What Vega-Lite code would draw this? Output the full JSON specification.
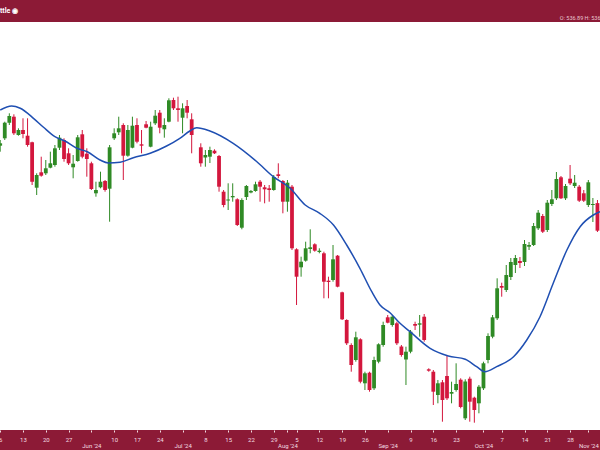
{
  "$schema": "https://vega.github.io/schema/vega-lite/v6.json",
  "width": 600,
  "height": 408,
  "autosize": {"type": "none"},
  "padding": {"left": 0, "right": 0, "top": 22, "bottom": 20},
  "background": "#8c1a36",
  "view": {"fill": "white", "stroke": null},
  "config": {"scale": {"continuousPadding": 0}},
  "title": {"text": "ttle ◉", "anchor": "start", "frame": "group", "color": "white", "fontSize": 7, "fontWeight": "bold", "font": "Roboto", "offset": 1},
  "datasets": {
    "candles": [
      {"i":0,"o":594.3,"h":600,"l":588.3,"c":596.7},
      {"i":1,"o":601.7,"h":618.3,"l":600,"c":617.3},
      {"i":2,"o":617.3,"h":626.7,"l":615,"c":624},
      {"i":3,"o":623.3,"h":625.7,"l":605,"c":606.7},
      {"i":4,"o":605,"h":611.7,"l":604.3,"c":610},
      {"i":5,"o":610,"h":621.7,"l":601.7,"c":606},
      {"i":6,"o":604.3,"h":621.7,"l":593.3,"c":595},
      {"i":7,"o":597.7,"h":598.3,"l":555,"c":558.3},
      {"i":8,"o":552.3,"h":566.7,"l":545,"c":565},
      {"i":9,"o":567.7,"h":583.3,"l":563.3,"c":564.3},
      {"i":10,"o":566.7,"h":580,"l":565,"c":571.7},
      {"i":11,"o":572.3,"h":588.3,"l":571.7,"c":576.7},
      {"i":12,"o":575,"h":595,"l":573.3,"c":591.7},
      {"i":13,"o":592.3,"h":605,"l":590,"c":602.3},
      {"i":14,"o":600,"h":601.7,"l":578.3,"c":581},
      {"i":15,"o":586.7,"h":591.7,"l":575,"c":576.7},
      {"i":16,"o":572.7,"h":585,"l":561.7,"c":576.3},
      {"i":17,"o":579,"h":605,"l":578.3,"c":602.7},
      {"i":18,"o":605.7,"h":610,"l":581.7,"c":583.3},
      {"i":19,"o":586.3,"h":591.7,"l":563.3,"c":581},
      {"i":20,"o":576.7,"h":578.3,"l":550,"c":551},
      {"i":21,"o":546.7,"h":558.3,"l":543.3,"c":550},
      {"i":22,"o":552.7,"h":568.3,"l":551.7,"c":558.3},
      {"i":23,"o":559,"h":560,"l":548.3,"c":550},
      {"i":24,"o":551.3,"h":595,"l":518.3,"c":592.7},
      {"i":25,"o":601.7,"h":611.7,"l":600,"c":606.7},
      {"i":26,"o":607.7,"h":623.3,"l":605,"c":611.7},
      {"i":27,"o":615,"h":616.7,"l":560,"c":584.3},
      {"i":28,"o":584.3,"h":615,"l":583.3,"c":610},
      {"i":29,"o":592.3,"h":623.3,"l":591.7,"c":614.3},
      {"i":30,"o":615,"h":621.7,"l":596.7,"c":598.3},
      {"i":31,"o":595.7,"h":610,"l":586.7,"c":594.3},
      {"i":32,"o":615.7,"h":619,"l":611.7,"c":612.3},
      {"i":33,"o":593.3,"h":618.3,"l":592.7,"c":613.3},
      {"i":34,"o":616.7,"h":630,"l":615,"c":624.3},
      {"i":35,"o":627.3,"h":630,"l":606.7,"c":612.3},
      {"i":36,"o":610.7,"h":621.7,"l":602.3,"c":615},
      {"i":37,"o":618.3,"h":641.7,"l":617.7,"c":639.7},
      {"i":38,"o":640,"h":642.3,"l":630,"c":631.7},
      {"i":39,"o":631.7,"h":643.3,"l":618.3,"c":630},
      {"i":40,"o":622.3,"h":636.7,"l":606.7,"c":631.7},
      {"i":41,"o":634,"h":640,"l":621.7,"c":627.3},
      {"i":42,"o":620.7,"h":626.7,"l":586.7,"c":605},
      {"i":44,"o":592.7,"h":596.7,"l":573.3,"c":576.7},
      {"i":45,"o":582.5,"h":590,"l":573.3,"c":585},
      {"i":46,"o":583.3,"h":593.3,"l":577,"c":590},
      {"i":47,"o":589.3,"h":590.7,"l":586,"c":586.7},
      {"i":48,"o":584,"h":585,"l":548.3,"c":553.3},
      {"i":49,"o":548.3,"h":550,"l":532.7,"c":535},
      {"i":50,"o":539.5,"h":556.7,"l":530,"c":540.5},
      {"i":51,"o":542.7,"h":556.7,"l":538.3,"c":544},
      {"i":52,"o":540.7,"h":541.7,"l":514,"c":515},
      {"i":53,"o":512.3,"h":541.7,"l":510.7,"c":540},
      {"i":54,"o":543,"h":555,"l":540,"c":554},
      {"i":55,"o":547.5,"h":550,"l":546.7,"c":549},
      {"i":56,"o":549,"h":558.3,"l":548.3,"c":555.7},
      {"i":57,"o":558.3,"h":560,"l":538.3,"c":553.3},
      {"i":58,"o":552.7,"h":555,"l":536.7,"c":550.7},
      {"i":59,"o":551.7,"h":555,"l":538.3,"c":550},
      {"i":60,"o":550,"h":565,"l":549.3,"c":563},
      {"i":61,"o":565.7,"h":576.7,"l":561.7,"c":564},
      {"i":62,"o":559,"h":560,"l":526.7,"c":538.3},
      {"i":63,"o":538.3,"h":560,"l":528.3,"c":557.3},
      {"i":64,"o":553.3,"h":555,"l":490,"c":491.7},
      {"i":65,"o":490.7,"h":491.7,"l":435,"c":463.3},
      {"i":66,"o":472.7,"h":483.3,"l":463.3,"c":478.3},
      {"i":67,"o":479.3,"h":498.3,"l":478.3,"c":491.7},
      {"i":68,"o":491,"h":510.7,"l":486.7,"c":492.7},
      {"i":69,"o":495.7,"h":496.7,"l":488.3,"c":489.3},
      {"i":70,"o":488,"h":491.7,"l":486.7,"c":489.3},
      {"i":71,"o":486.7,"h":488.3,"l":441.7,"c":458.3},
      {"i":72,"o":459.3,"h":463.3,"l":441.7,"c":458},
      {"i":73,"o":460,"h":495,"l":458.3,"c":480.7},
      {"i":74,"o":484.3,"h":485,"l":452.7,"c":453.3},
      {"i":75,"o":447.7,"h":448.3,"l":420,"c":420.7},
      {"i":76,"o":420,"h":420.7,"l":395,"c":396.7},
      {"i":77,"o":395,"h":396.7,"l":368.3,"c":375},
      {"i":78,"o":380,"h":408.3,"l":378.3,"c":402.7},
      {"i":79,"o":400.7,"h":401.7,"l":356.7,"c":358.3},
      {"i":80,"o":356.7,"h":368.3,"l":350,"c":366.7},
      {"i":81,"o":367.3,"h":368.3,"l":348.3,"c":350},
      {"i":82,"o":351.7,"h":383.3,"l":350,"c":380},
      {"i":83,"o":378.3,"h":396.7,"l":376.7,"c":395.7},
      {"i":84,"o":395,"h":418.3,"l":393.3,"c":415},
      {"i":85,"o":422.7,"h":425,"l":416.7,"c":417.3},
      {"i":86,"o":415,"h":425,"l":413.3,"c":423.3},
      {"i":87,"o":416.7,"h":418.3,"l":395,"c":396.7},
      {"i":88,"o":393.5,"h":395,"l":383.3,"c":385},
      {"i":89,"o":380.5,"h":393.3,"l":355,"c":388.3},
      {"i":90,"o":388.3,"h":410,"l":386.7,"c":408.3},
      {"i":91,"o":416,"h":418.3,"l":410,"c":414.3},
      {"i":92,"o":415.3,"h":425,"l":403.3,"c":416.7},
      {"i":93,"o":423.3,"h":426,"l":398.3,"c":400},
      {"i":94,"o":370.7,"h":371.7,"l":368.3,"c":369.3},
      {"i":95,"o":368.3,"h":370,"l":335,"c":348.3},
      {"i":96,"o":345,"h":360,"l":336.7,"c":356.7},
      {"i":97,"o":357.7,"h":360,"l":318.3,"c":340},
      {"i":98,"o":364,"h":385,"l":340,"c":341.7},
      {"i":99,"o":346.3,"h":358.3,"l":336.7,"c":348},
      {"i":100,"o":350,"h":376.7,"l":348.3,"c":356},
      {"i":101,"o":360.3,"h":361.7,"l":331.7,"c":333},
      {"i":102,"o":321.7,"h":360.7,"l":320,"c":358.5},
      {"i":103,"o":361.3,"h":363.3,"l":318.3,"c":338.3},
      {"i":104,"o":342.3,"h":343.3,"l":317.3,"c":330},
      {"i":105,"o":336.7,"h":355,"l":326.7,"c":353.3},
      {"i":106,"o":351.7,"h":378.3,"l":350,"c":376.7},
      {"i":107,"o":380,"h":406.7,"l":376.7,"c":404},
      {"i":108,"o":403.3,"h":425,"l":401.7,"c":422.7},
      {"i":109,"o":421.7,"h":461.7,"l":420,"c":451.7},
      {"i":110,"o":454,"h":457.3,"l":443.3,"c":452.3},
      {"i":111,"o":450,"h":475,"l":448,"c":465},
      {"i":112,"o":463,"h":482,"l":460,"c":478},
      {"i":113,"o":475,"h":485,"l":467,"c":482},
      {"i":114,"o":479,"h":483,"l":472,"c":477},
      {"i":115,"o":478,"h":500,"l":474,"c":496},
      {"i":116,"o":493.3,"h":498,"l":490,"c":495},
      {"i":117,"o":495,"h":517,"l":494,"c":514},
      {"i":118,"o":511.7,"h":530,"l":510,"c":527.3},
      {"i":119,"o":524,"h":526,"l":507,"c":508.3},
      {"i":120,"o":510,"h":540,"l":508,"c":537.3},
      {"i":121,"o":536,"h":550,"l":534,"c":540.7},
      {"i":122,"o":541.7,"h":568,"l":540,"c":561},
      {"i":123,"o":562.7,"h":564,"l":541,"c":541.7},
      {"i":124,"o":541.7,"h":556,"l":540,"c":554},
      {"i":125,"o":561.3,"h":575,"l":555,"c":556.7},
      {"i":126,"o":554,"h":565,"l":552,"c":557.3},
      {"i":127,"o":553.3,"h":555,"l":538,"c":539.3},
      {"i":128,"o":546.7,"h":550,"l":538,"c":539.3},
      {"i":129,"o":535,"h":560,"l":533,"c":557.7},
      {"i":130,"o":535,"h":542,"l":518,"c":536},
      {"i":131,"o":536.89,"h":540,"l":508,"c":509.3}
    ],
    "ma": [
      {"i":0,"v":630},{"i":2.5,"v":634},{"i":4.4,"v":631.7},{"i":7.3,"v":621.7},{"i":9.5,"v":612.7},
      {"i":12,"v":603.3},{"i":14.2,"v":599},{"i":16.8,"v":591.7},{"i":19.1,"v":588.3},{"i":21.9,"v":580},
      {"i":23.7,"v":577},{"i":26.3,"v":577.7},{"i":29.2,"v":582.3},{"i":32.9,"v":586.7},{"i":36.5,"v":594},
      {"i":39.4,"v":601.7},{"i":41.6,"v":609},{"i":43.1,"v":612.3},{"i":46,"v":609},{"i":51.1,"v":596.7},
      {"i":56.3,"v":578.3},{"i":59.9,"v":563.3},{"i":63.6,"v":551.7},{"i":66.9,"v":535},{"i":70.1,"v":526.7},
      {"i":73.1,"v":515},{"i":76,"v":495},{"i":78.9,"v":471.7},{"i":81.5,"v":448.3},{"i":83.3,"v":435},
      {"i":85.5,"v":427.3},{"i":87.7,"v":416.7},{"i":89.9,"v":408.3},{"i":94.3,"v":391.7},{"i":98.3,"v":384},
      {"i":102,"v":380.7},{"i":104.5,"v":373.3},{"i":106.3,"v":368.3},{"i":108.9,"v":373.3},{"i":112.6,"v":383.3},
      {"i":115.5,"v":400},{"i":118.4,"v":423.3},{"i":121.3,"v":456.7},{"i":124.3,"v":490},{"i":127.2,"v":513.3},
      {"i":130.1,"v":525},{"i":131.6,"v":528.3}
    ]
  },
  "layer": [
    {
      "data": {"name": "candles"},
      "mark": {"type": "rule", "strokeWidth": 1, "clip": true},
      "encoding": {
        "x": {"field": "i", "type": "quantitative",
              "scale": {"domain": [-0.044, 131.56], "nice": false, "zero": false, "padding": 0},
              "axis": {"orient": "bottom", "title": null, "grid": false, "domain": false,
                       "values": [0,5,10,15,20,25,30,35,40,45,50,55,60,63,65,70,75,80,85,90,95,100,106,110,115,120,125,129],
                       "labelExpr": "datum.value == 20 ? ['', \"Jun '24\"] : datum.value == 40 ? ['', \"Jul '24\"] : datum.value == 63 ? ['', \"Aug '24\"] : datum.value == 85 ? ['', \"Sep '24\"] : datum.value == 106 ? ['', \"Oct '24\"] : datum.value == 129 ? ['', \"Nov '24\"] : utcFormat(utc(2024, 4, 6 + floor(datum.value / 5) * 7 + datum.value % 5), '%-d')",
                       "labelColor": "#f3dde2", "labelFontSize": 6, "labelFont": "Roboto", "labelLineHeight": 6,
                       "labelPadding": 4, "labelBaseline": "top", "labelOverlap": false, "labelFlush": false,
                       "tickColor": "#f3dde2", "tickSize": 2, "tickWidth": 1}},
        "y": {"field": "l", "type": "quantitative", "scale": {"domain": [310, 718], "nice": false, "zero": false}, "axis": null},
        "y2": {"field": "h"},
        "color": {"condition": {"test": "datum.c >= datum.o", "value": "#2f8a25"}, "value": "#d3173d"}
      }
    },
    {
      "data": {"name": "candles"},
      "mark": {"type": "bar", "size": 3.8, "clip": true},
      "encoding": {
        "x": {"field": "i", "type": "quantitative", "axis": null},
        "y": {"field": "o", "type": "quantitative"},
        "y2": {"field": "c"},
        "color": {"condition": {"test": "datum.c >= datum.o", "value": "#2f8a25"}, "value": "#d3173d"}
      }
    },
    {
      "data": {"name": "ma"},
      "mark": {"type": "line", "interpolate": "monotone", "color": "#1f4fb2", "strokeWidth": 1.5, "clip": true},
      "encoding": {
        "x": {"field": "i", "type": "quantitative",
              "axis": {"orient": "top", "labels": false, "ticks": false, "domain": false, "grid": false,
                       "title": "O: 536.89   H: 536", "titleAnchor": "end", "titleColor": "#e9c6ce",
                       "titleFontSize": 5.5, "titleFont": "Roboto", "titleFontWeight": "normal", "titlePadding": 2}},
        "y": {"field": "v", "type": "quantitative"}
      }
    }
  ],
  "resolve": {"axis": {"x": "independent"}}
}
